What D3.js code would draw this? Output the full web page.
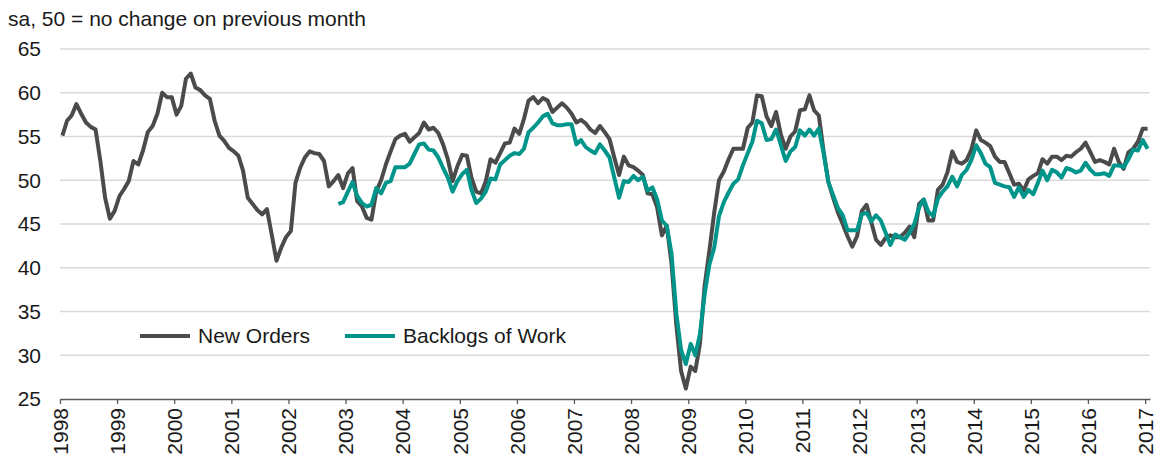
<!DOCTYPE html>
<html lang="en">
<head>
  <meta charset="UTF-8">
  <title>New Orders and Backlogs of Work</title>
  <style>
    body { margin: 0; background: #fff; }
    text { font-family: Arial, "Liberation Sans", sans-serif; fill: #1a1a1a; }
  </style>
</head>
<body>
  <script src="https://cdn.jsdelivr.net/npm/d3@7"></script>
  <script>
// canvas
const width = 1160;
const height = 461;

// monthly data, Jan 1998 - Jan 2017
const startMonth = new Date(1998, 0, 1);
const newOrders = [
  55.1, 56.8, 57.4, 58.7, 57.6, 56.6, 56.1, 55.8, 52.2, 48.0, 45.6, 46.5, // 1998
  48.2, 49.0, 49.9, 52.2, 51.8, 53.4, 55.5, 56.2, 57.6, 60.0, 59.5, 59.5, // 1999
  57.5, 58.5, 61.6, 62.2, 60.6, 60.3, 59.7, 59.3, 56.8, 55.1, 54.5, 53.7, // 2000
  53.3, 52.8, 51.1, 48.0, 47.3, 46.6, 46.1, 46.7, 43.8, 40.8, 42.3, 43.5, // 2001
  44.2, 49.7, 51.4, 52.6, 53.3, 53.1, 53.0, 52.2, 49.3, 49.9, 50.6, 49.1, // 2002
  50.8, 51.4, 47.6, 47.0, 45.7, 45.5, 48.7, 50.0, 51.8, 53.3, 54.7, 55.1, // 2003
  55.3, 54.4, 54.9, 55.4, 56.6, 55.8, 56.0, 55.4, 54.1, 52.4, 49.9, 51.6, // 2004
  52.9, 52.8, 50.3, 48.7, 48.5, 49.9, 52.4, 52.0, 53.1, 54.2, 54.3, 55.9, // 2005
  55.3, 57.0, 59.1, 59.5, 58.8, 59.4, 59.1, 57.8, 58.3, 58.8, 58.3, 57.6, // 2006
  56.6, 56.9, 56.5, 55.8, 55.4, 56.2, 55.5, 54.7, 52.6, 50.6, 52.7, 51.7, // 2007
  51.5, 51.1, 50.6, 48.5, 48.4, 46.9, 43.7, 44.8, 40.5, 33.5, 28.2, 26.2, // 2008
  28.7, 28.2, 31.3, 38.0, 42.0, 46.3, 50.0, 51.0, 52.4, 53.6, 53.6, 53.6, // 2009
  56.0, 56.6, 59.7, 59.6, 57.3, 56.2, 57.8, 55.2, 53.6, 55.0, 55.6, 58.0, // 2010
  58.1, 59.7, 58.0, 57.4, 53.3, 49.8, 48.0, 46.3, 45.0, 43.6, 42.4, 43.6, // 2011
  46.5, 47.2, 45.2, 43.2, 42.6, 43.4, 43.7, 43.5, 43.5, 44.0, 44.7, 43.5, // 2012
  47.3, 47.8, 45.4, 45.4, 48.9, 49.5, 50.9, 53.3, 52.1, 51.9, 52.3, 53.5, // 2013
  55.7, 54.6, 54.3, 53.9, 52.7, 52.1, 52.1, 50.8, 49.5, 49.6, 48.8, 50.1, // 2014
  50.5, 50.8, 52.4, 51.9, 52.7, 52.7, 52.3, 52.8, 52.7, 53.2, 53.6, 54.3, // 2015
  53.2, 52.1, 52.3, 52.1, 51.8, 53.6, 52.1, 51.3, 53.2, 53.6, 54.4, 55.9, // 2016
  55.9                                                                    // 2017
];

// backlogs start in Nov 2002
const backlogStart = new Date(2002, 10, 1);
const backlogs = [
  47.3, 47.5,                                                             // 2002
  48.7, 49.8, 48.2, 47.4, 47.0, 47.2, 49.1, 48.5, 49.7, 49.9, 51.5, 51.5, // 2003
  51.5, 51.9, 53.0, 54.1, 54.2, 53.5, 53.4, 52.6, 51.4, 50.3, 48.7, 49.9, // 2004
  50.7, 51.2, 48.9, 47.4, 47.9, 48.7, 50.2, 50.1, 51.8, 52.3, 52.8, 53.1, // 2005
  53.0, 53.6, 55.5, 56.0, 56.6, 57.3, 57.6, 56.5, 56.3, 56.3, 56.4, 56.4, // 2006
  54.1, 54.6, 53.8, 53.4, 53.1, 54.1, 53.4, 52.6, 50.3, 48.0, 49.9, 49.8, // 2007
  50.5, 50.0, 50.4, 48.8, 49.2, 47.8, 45.4, 44.8, 41.6, 34.8, 30.6, 29.0, // 2008
  31.3, 30.0, 32.4, 37.0, 40.4, 42.3, 45.9, 47.5, 48.6, 49.6, 50.1, 51.7, // 2009
  53.1, 54.4, 56.8, 56.5, 54.6, 54.7, 55.8, 54.0, 52.2, 53.3, 53.8, 55.7, // 2010
  55.1, 55.8, 55.1, 55.9, 53.1, 49.8, 48.3, 46.8, 46.0, 44.3, 44.3, 44.3, // 2011
  46.1, 46.3, 45.3, 46.0, 45.4, 44.0, 42.6, 43.8, 43.5, 43.2, 44.0, 45.0, // 2012
  46.9, 47.8, 46.4, 45.9, 47.9, 48.7, 49.3, 50.4, 49.3, 50.6, 51.2, 52.3, // 2013
  54.0, 53.1, 51.9, 51.5, 49.7, 49.5, 49.3, 49.2, 48.1, 49.2, 48.1, 48.9, // 2014
  48.4, 49.7, 51.1, 50.0, 51.2, 50.9, 50.3, 51.4, 51.2, 50.9, 51.1, 52.0, // 2015
  51.2, 50.7, 50.7, 50.8, 50.5, 51.7, 51.7, 51.5, 52.4, 53.5, 53.4, 54.6, // 2016
  53.6                                                                    // 2017
];

const yTicks = [25, 30, 35, 40, 45, 50, 55, 60, 65];
const titleText = 'sa, 50 = no change on previous month';
const seriesNames = ['New Orders', 'Backlogs of Work'];
const colors = ['#4b4b4b', '#00958a'];

// each value sits in the middle of its month
function toPoints(values, first) {
  return values.map((v, i) => {
    const a = d3.timeMonth.offset(first, i);
    const b = d3.timeMonth.offset(first, i + 1);
    return { date: new Date((+a + +b) / 2), value: v };
  });
}

const svg = d3.select('body')
  .append('svg')
  .attr('width', width)
  .attr('height', height);

// scales
const x = d3.scaleTime()
  .domain([startMonth, new Date(2017, 1, 1)])
  .range([60, 1150]);

const y = d3.scaleLinear()
  .domain([25, 65])
  .range([399, 49]);

// gridlines
svg.append('g')
  .selectAll('line')
  .data(yTicks.filter(d => d > 25))
  .enter()
  .append('line')
  .attr('x1', x.range()[0])
  .attr('x2', x.range()[1])
  .attr('y1', d => y(d))
  .attr('y2', d => y(d))
  .attr('stroke', '#d9d9d9')
  .attr('stroke-width', 1.3);

// y labels
svg.append('g')
  .selectAll('text')
  .data(yTicks)
  .enter()
  .append('text')
  .attr('x', 41)
  .attr('y', d => y(d))
  .attr('dy', '0.35em')
  .attr('text-anchor', 'end')
  .style('font-size', '21px')
  .text(d => d);

// x axis
const xAxis = d3.axisBottom(x)
  .ticks(d3.timeYear.every(1))
  .tickFormat(d3.timeFormat('%Y'))
  .tickSize(5)
  .tickSizeOuter(0);

const gx = svg.append('g')
  .attr('transform', `translate(0, ${y(25)})`)
  .call(xAxis);

gx.select('.domain').attr('stroke', '#595959').attr('stroke-width', 1.3);
gx.selectAll('.tick line').attr('stroke', '#595959').attr('stroke-width', 1.3);
gx.selectAll('.tick text')
  .attr('transform', 'rotate(-90)')
  .attr('text-anchor', 'end')
  .attr('x', -9)
  .attr('y', 0)
  .attr('dy', '0.35em')
  .style('font-size', '21px')
  .style('font-family', 'Arial, "Liberation Sans", sans-serif')
  .attr('fill', '#1a1a1a');

// lines
const line = d3.line()
  .x(d => x(d.date))
  .y(d => y(d.value));

const series = [toPoints(newOrders, startMonth), toPoints(backlogs, backlogStart)];

svg.append('g')
  .selectAll('path')
  .data(series)
  .enter()
  .append('path')
  .attr('d', line)
  .attr('fill', 'none')
  .attr('stroke', (d, i) => colors[i])
  .attr('stroke-width', 4)
  .attr('stroke-linejoin', 'round');

// title
svg.append('text')
  .attr('x', 8)
  .attr('y', 26)
  .style('font-size', '21px')
  .text(titleText);

// legend
const legendX = [140, 345];
const legend = svg.append('g')
  .selectAll('g')
  .data(seriesNames)
  .enter()
  .append('g')
  .attr('transform', (d, i) => `translate(${legendX[i]}, 336)`);

legend.append('line')
  .attr('x1', 0)
  .attr('x2', 50)
  .attr('stroke', (d, i) => colors[i])
  .attr('stroke-width', 4);

legend.append('text')
  .attr('x', 58)
  .attr('dy', '0.35em')
  .style('font-size', '21px')
  .text(d => d);
  </script>
</body>
</html>
